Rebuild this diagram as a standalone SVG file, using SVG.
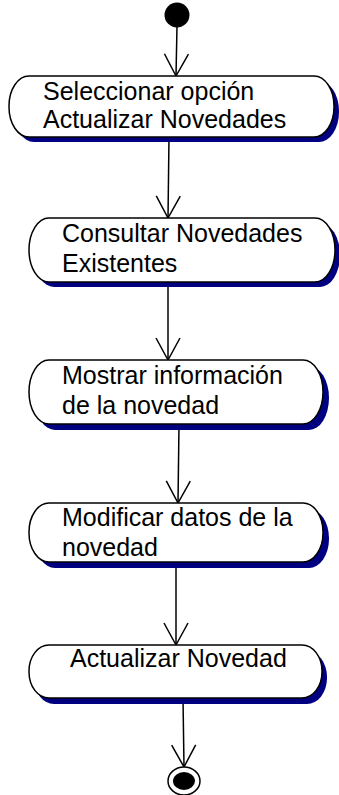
<svg xmlns="http://www.w3.org/2000/svg" width="339" height="795" viewBox="0 0 339 795">
<style>
.shadow{fill:#000080;stroke:none}
.act{fill:#ffffff;stroke:#000000;stroke-width:1.5}
.lbl{font-family:"Liberation Sans",Arial,sans-serif;font-size:25px;fill:#000000}
.conn line{stroke:#000000;stroke-width:1.5;fill:none;marker-end:url(#open)}
</style>
<defs>
<marker id="open" markerUnits="userSpaceOnUse" markerWidth="30" markerHeight="30" refX="0" refY="0" orient="auto" overflow="visible">
<path d="M-22,-12 L0,0 L-22,12" fill="none" stroke="#000000" stroke-width="1.5"/>
</marker>
</defs>
<rect width="339" height="795" fill="#ffffff"/>
<g id="conn" class="conn">
<line x1="177" y1="26" x2="176" y2="76"/>
<line x1="169" y1="137" x2="168" y2="218"/>
<line x1="168" y1="282" x2="168" y2="360"/>
<line x1="179" y1="424" x2="178" y2="503"/>
<line x1="176" y1="562" x2="176" y2="645"/>
<line x1="183" y1="698" x2="184" y2="767"/>
</g>
<g id="start">
<circle cx="177" cy="15" r="12.5" fill="#000000"/>
</g>
<g id="n1">
<rect class="shadow" x="14" y="81" width="325" height="61" rx="20" ry="30"/>
<rect class="act" x="9" y="76" width="325" height="61" rx="20" ry="30"/>
<text class="lbl" x="43" y="100">Seleccionar opción</text>
<text class="lbl" x="43" y="128">Actualizar Novedades</text>
</g>
<g id="n2">
<rect class="shadow" x="34" y="223" width="306" height="64" rx="20" ry="32"/>
<rect class="act" x="29" y="218" width="306" height="64" rx="20" ry="32"/>
<text class="lbl" x="62" y="242">Consultar Novedades</text>
<text class="lbl" x="62" y="272">Existentes</text>
</g>
<g id="n3">
<rect class="shadow" x="35" y="366" width="294" height="64" rx="20" ry="32"/>
<rect class="act" x="29" y="360" width="294" height="64" rx="20" ry="32"/>
<text class="lbl" x="62" y="384">Mostrar información</text>
<text class="lbl" x="62" y="414">de la novedad</text>
</g>
<g id="n4">
<rect class="shadow" x="35" y="509" width="294" height="59" rx="20" ry="29"/>
<rect class="act" x="29" y="503" width="294" height="59" rx="20" ry="29"/>
<text class="lbl" x="62" y="526">Modificar datos de la</text>
<text class="lbl" x="62" y="556">novedad</text>
</g>
<g id="n5">
<rect class="shadow" x="34" y="651" width="293" height="53" rx="20" ry="26"/>
<rect class="act" x="29" y="645" width="293" height="53" rx="20" ry="26"/>
<text class="lbl" x="70" y="667">Actualizar Novedad</text>
</g>
<g id="end">
<ellipse cx="184" cy="781" rx="16" ry="14" fill="#ffffff" stroke="#000000" stroke-width="1.5"/>
<ellipse cx="184" cy="781" rx="11" ry="9" fill="#000000"/>
</g>
</svg>
